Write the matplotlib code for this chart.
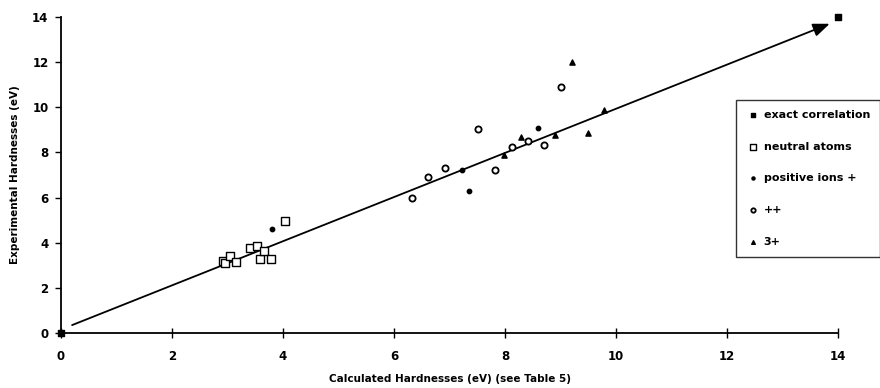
import matplotlib
matplotlib.use("Agg")
import matplotlib.pyplot as plt

# exact correlation
exact_x = [0, 14]
exact_y = [0, 14]
# neutral atoms
neutral_x = [2.91, 2.96, 3.05, 3.15, 3.41, 3.53, 3.59, 3.66, 3.78, 4.04]
neutral_y = [3.20, 3.09, 3.40, 3.13, 3.75, 3.87, 3.28, 3.63, 3.28, 4.98]
# positive ions +
pos1_x = [3.80, 7.22, 7.35, 8.60]
pos1_y = [4.61, 7.22, 6.31, 9.07]
# ++
pos2_x = [6.32, 6.62, 6.92, 7.51, 7.82, 8.13, 8.42, 8.71, 9.01]
pos2_y = [6.00, 6.90, 7.30, 9.03, 7.22, 8.23, 8.52, 8.33, 10.88]
# 3+
pos3_x = [7.99, 8.29, 8.90, 9.50, 9.79, 9.21]
pos3_y = [7.89, 8.70, 8.77, 8.88, 9.88, 12.02]
# correlation line (arrow)
fit_x = [0.2, 13.85]
fit_y = [0.35, 13.7]

xticks = [0, 2, 4, 6, 8, 10, 12, 14]
yticks = [0, 2, 4, 6, 8, 10, 12, 14]

plt.rcParams['font.family'] = ['DejaVu Sans']

fig = plt.figure(figsize=(8.8, 3.88), dpi=100)
ax = fig.add_axes([61/880, 55/388, (838-61)/880, (333-17)/388])
ax.set_xlim(0, 14)
ax.set_ylim(0, 14)

ax.annotate("", xy=(fit_x[1], fit_y[1]), xytext=(fit_x[0], fit_y[0]),
            arrowprops=dict(arrowstyle="-|>,head_length=1.0,head_width=0.4",
                            color="black", lw=1.3, shrinkA=0, shrinkB=0))

ax.scatter(exact_x, exact_y, marker='s', s=16, color='black', clip_on=False, zorder=5,
           label='exact correlation')
ax.scatter(neutral_x, neutral_y, marker='s', s=28, facecolor='white', edgecolor='black',
           linewidth=1.0, zorder=4, label='neutral atoms')
ax.scatter(pos1_x, pos1_y, marker='o', s=10, color='black', zorder=5,
           label='positive ions +')
ax.scatter(pos2_x, pos2_y, marker='o', s=20, facecolor='white', edgecolor='black',
           linewidth=1.3, zorder=4, label='++')
ax.scatter(pos3_x, pos3_y, marker='^', s=14, color='black', zorder=5, label='3+')

for s in ['top', 'right']:
    ax.spines[s].set_visible(False)
for s in ['left', 'bottom']:
    ax.spines[s].set_linewidth(1.3)
ax.set_xticks(xticks)
ax.set_yticks(yticks)
ax.tick_params(axis='x', direction='inout', length=7, width=1.0, pad=9, labelsize=8.5)
ax.tick_params(axis='y', direction='out', length=4, width=1.0, pad=5, labelsize=8.5)
for lab in ax.get_xticklabels() + ax.get_yticklabels():
    lab.set_fontweight('bold')

ax.set_xlabel("Calculated Hardnesses (eV) (see Table 5)", fontsize=7.5, fontweight='bold', labelpad=8)
ax.set_ylabel("Experimental Hardnesses (eV)", fontsize=7.5, fontweight='bold', labelpad=9)

leg = fig.legend(loc='upper left', bbox_to_anchor=(736/880, 1 - 100/388),
                 fontsize=8, frameon=True, fancybox=False, edgecolor='black',
                 borderpad=0.9, labelspacing=1.95, handletextpad=0.4, handlelength=1.2,
                 borderaxespad=0, markerscale=0.7)
leg.get_frame().set_linewidth(1.0)
for t in leg.get_texts():
    t.set_fontweight('bold')

fig.savefig("out.png", dpi=100)
